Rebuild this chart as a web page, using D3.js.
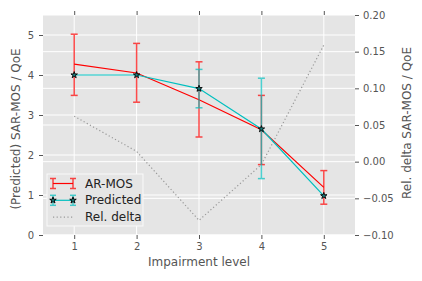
<!DOCTYPE html>
<meta charset="utf-8">
<script src="https://d3js.org/d3.v7.min.js"></script>
<style>
  body { margin: 0; background: #fff; }
  text { font-family: "DejaVu Sans", sans-serif; }
</style>
<div id="chart"></div>
<script>

// data
var levels = [1, 2, 3, 4, 5];
var arMos = [4.27, 4.05, 3.38, 2.63, 1.19];
var arMosLow = [3.49, 3.32, 2.45, 1.76, 0.77];
var arMosHigh = [5.02, 4.79, 4.33, 3.49, 1.61];
var predicted = [4.0, 4.0, 3.66, 2.65, 0.98];
var predLow = [4.0, 4.0, 3.18, 1.41, 0.98];
var predHigh = [4.0, 4.0, 4.14, 3.92, 0.98];
var relDelta = [0.062, 0.014, -0.080, -0.004, 0.159];
var leftTicks = [0, 1, 2, 3, 4, 5];
var rightTicks = [-0.10, -0.05, 0.00, 0.05, 0.10, 0.15, 0.20];

var W = 422, H = 281;
var margin = {top: 15, right: 67, bottom: 46, left: 43};
var width = W - margin.left - margin.right,
    height = H - margin.top - margin.bottom;

var red = "#ff0000", cyan = "#00bfbf", tickCol = "#555";

var svg = d3.select("#chart").append("svg")
    .attr("width", W).attr("height", H);
var g = svg.append("g")
    .attr("transform", "translate(" + margin.left + "," + margin.top + ")");

var x = d3.scaleLinear().domain([0.5, 5.5]).range([0, width]);
var y = d3.scaleLinear().domain([0, 5.5]).range([height, 0]);
var y2 = d3.scaleLinear().domain([-0.10, 0.20]).range([height, 0]);

// background
g.append("rect").attr("width", width).attr("height", height).attr("fill", "#e5e5e5");

// grid
g.selectAll(".gx").data(levels).enter().append("line")
    .attr("x1", d => x(d)).attr("x2", d => x(d))
    .attr("y1", 0).attr("y2", height)
    .attr("stroke", "#fff").attr("stroke-width", 1);
g.selectAll(".gy").data(leftTicks).enter().append("line")
    .attr("x1", 0).attr("x2", width)
    .attr("y1", d => y(d)).attr("y2", d => y(d))
    .attr("stroke", "#fff").attr("stroke-width", 1);
g.selectAll(".gy2").data(rightTicks).enter().append("line")
    .attr("x1", 0).attr("x2", width)
    .attr("y1", d => y2(d)).attr("y2", d => y2(d))
    .attr("stroke", "#fff").attr("stroke-width", 1);

// axes
function styleAxis(sel) {
  sel.select(".domain").remove();
  sel.selectAll(".tick line").attr("stroke", tickCol);
  sel.selectAll(".tick text").attr("fill", tickCol)
      .style("font-family", "DejaVu Sans").style("font-size", "10px");
}
g.append("g").attr("transform", "translate(0," + height + ")")
    .call(d3.axisBottom(x).tickValues(levels).tickFormat(d3.format("d")).tickSize(4).tickPadding(4))
    .call(styleAxis);
g.append("g")
    .call(d3.axisTop(x).tickValues(levels).tickFormat("").tickSize(4))
    .call(styleAxis);
g.append("g")
    .call(d3.axisLeft(y).tickValues(leftTicks).tickFormat(d3.format("d")).tickSize(4).tickPadding(5))
    .call(styleAxis);
g.append("g").attr("transform", "translate(" + width + ",0)")
    .call(d3.axisRight(y2).tickValues(rightTicks).tickFormat(d => d3.format(".2f")(d).replace("-", "\u2212")).tickSize(4).tickPadding(4))
    .call(styleAxis);

// labels
svg.append("text")
    .attr("x", margin.left + width / 2).attr("y", 266)
    .attr("text-anchor", "middle").attr("fill", tickCol).attr("font-size", "12px")
    .text("Impairment level");
svg.append("text")
    .attr("transform", "translate(20," + (margin.top + height / 2 + 4) + ") rotate(-90)")
    .attr("text-anchor", "middle").attr("fill", tickCol).attr("font-size", "12px")
    .text("(Predicted) SAR-MOS / QoE");
svg.append("text")
    .attr("transform", "translate(411," + (margin.top + height / 2 - 2) + ") rotate(-90)")
    .attr("text-anchor", "middle").attr("fill", tickCol).attr("font-size", "12px")
    .text("Rel. delta SAR-MOS / QoE");

// clip for plot
svg.append("defs").append("clipPath").attr("id", "clip")
  .append("rect").attr("width", width).attr("height", height);
var plot = g.append("g").attr("clip-path", "url(#clip)");

var idx = levels.map((d, i) => i);

function errorBars(vals, low, high, color) {
  var eb = plot.append("g").attr("stroke", color).attr("stroke-width", 1.5).attr("opacity", 0.7);
  idx.forEach(function (i) {
    if (high[i] - low[i] < 0.01) return;
    eb.append("line").attr("x1", x(levels[i])).attr("x2", x(levels[i]))
        .attr("y1", y(low[i])).attr("y2", y(high[i]));
    [low[i], high[i]].forEach(function (v) {
      eb.append("line").attr("x1", x(levels[i]) - 3.5).attr("x2", x(levels[i]) + 3.5)
          .attr("y1", y(v)).attr("y2", y(v));
    });
  });
}

// rel delta (right axis)
plot.append("path").datum(idx)
    .attr("d", d3.line().x(i => x(levels[i])).y(i => y2(relDelta[i])))
    .attr("fill", "none").attr("stroke", "#999").attr("stroke-width", 1.2)
    .attr("stroke-dasharray", "1.2,2.4");

// AR-MOS
errorBars(arMos, arMosLow, arMosHigh, red);
plot.append("path").datum(idx)
    .attr("d", d3.line().x(i => x(levels[i])).y(i => y(arMos[i])))
    .attr("fill", "none").attr("stroke", red).attr("stroke-width", 1.2);

// Predicted
errorBars(predicted, predLow, predHigh, cyan);
plot.append("path").datum(idx)
    .attr("d", d3.line().x(i => x(levels[i])).y(i => y(predicted[i])))
    .attr("fill", "none").attr("stroke", cyan).attr("stroke-width", 1.2);
var star = d3.symbol().type(d3.symbolStar).size(13);
plot.selectAll(".star").data(idx).enter().append("path")
    .attr("transform", i => "translate(" + x(levels[i]) + "," + y(predicted[i]) + ")")
    .attr("d", star).attr("fill", "#1a7f7f").attr("stroke", "#000").attr("stroke-width", 0.9);

// legend
var lg = svg.append("g").attr("transform", "translate(47,174)");
lg.append("rect").attr("width", 96).attr("height", 52)
    .attr("fill", "#e5e5e5").attr("stroke", "#fafafa").attr("stroke-width", 1);
var names = ["AR-MOS", "Predicted", "Rel. delta"];
names.forEach(function (n, k) {
  var cy = 9.5 + k * 16.8;
  var it = lg.append("g");
  if (k < 2) {
    var c = k === 0 ? red : cyan;
    it.append("line").attr("x1", 6).attr("x2", 26).attr("y1", cy).attr("y2", cy)
        .attr("stroke", c).attr("stroke-width", 1.2);
    [6, 26].forEach(function (xx) {
      var e = it.append("g").attr("stroke", c).attr("stroke-width", 1.5).attr("opacity", 0.7);
      e.append("line").attr("x1", xx).attr("x2", xx).attr("y1", cy - 5).attr("y2", cy + 5);
      e.append("line").attr("x1", xx - 3).attr("x2", xx + 3).attr("y1", cy - 5).attr("y2", cy - 5);
      e.append("line").attr("x1", xx - 3).attr("x2", xx + 3).attr("y1", cy + 5).attr("y2", cy + 5);
      if (k === 1) {
        it.append("path").attr("transform", "translate(" + xx + "," + cy + ")")
            .attr("d", star).attr("fill", "#1a7f7f").attr("stroke", "#000").attr("stroke-width", 0.9);
      }
    });
  } else {
    it.append("line").attr("x1", 6).attr("x2", 26).attr("y1", cy).attr("y2", cy)
        .attr("stroke", "#999").attr("stroke-width", 1.2).attr("stroke-dasharray", "1.2,2.4");
  }
  it.append("text").attr("x", 38).attr("y", cy + 4).attr("font-size", "12px").attr("fill", "#222")
      .text(n);
});

</script>
